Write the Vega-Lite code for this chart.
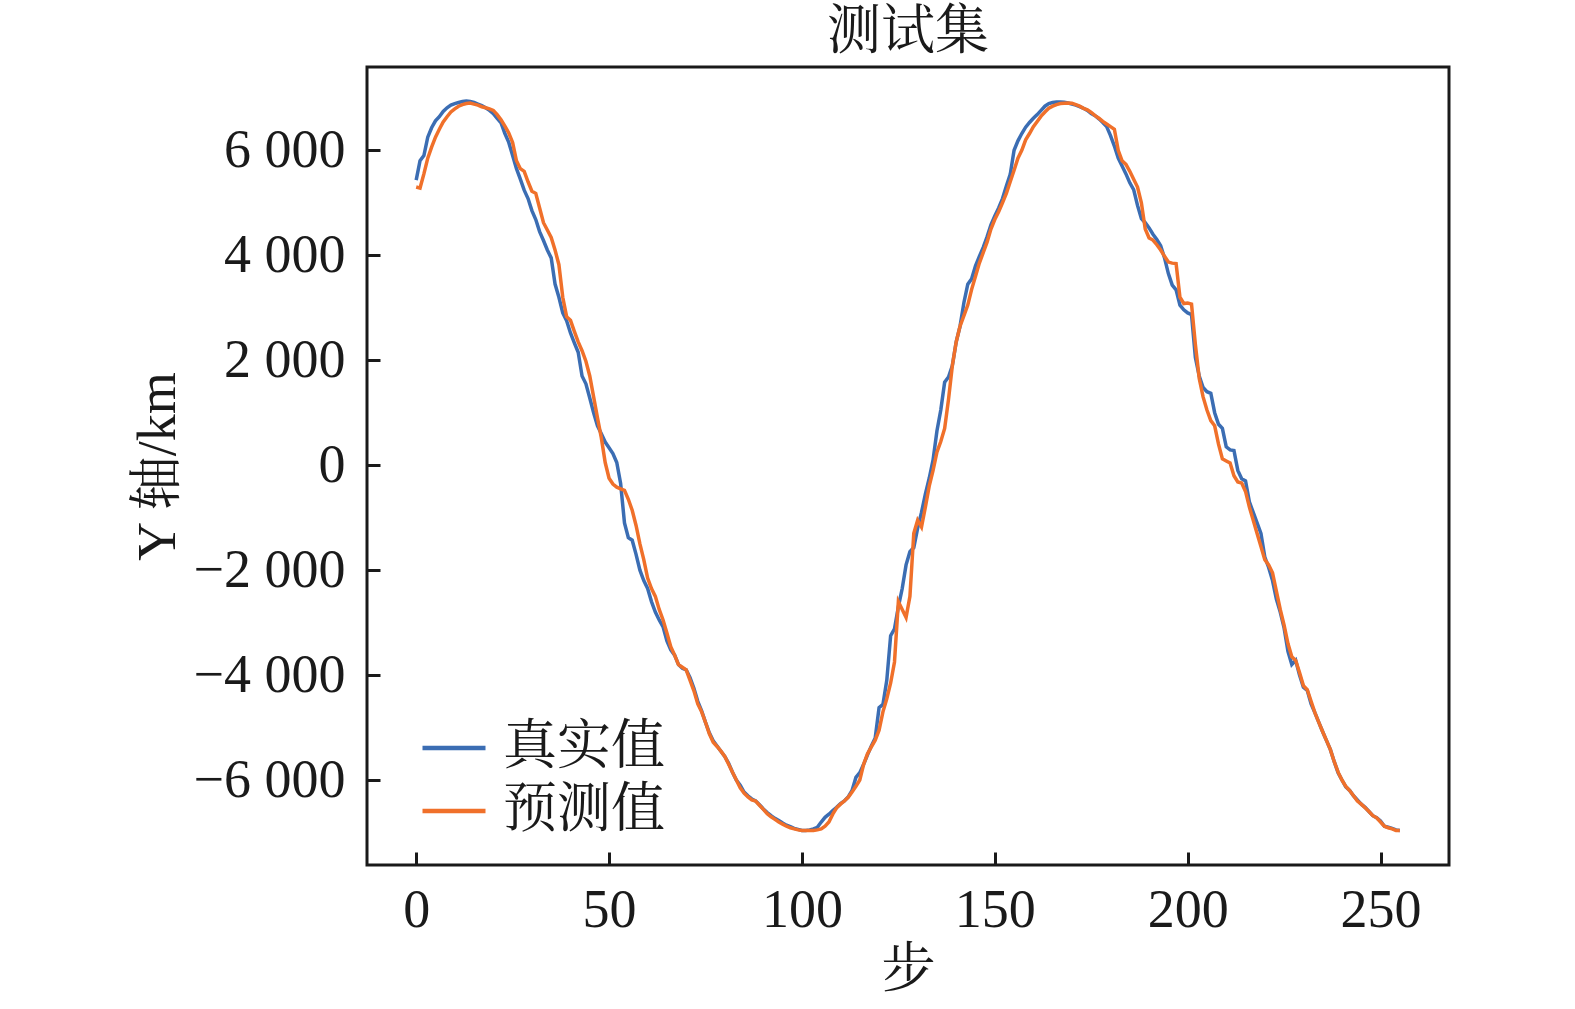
{
  "$schema": "https://vega.github.io/schema/vega-lite/v6.json",
  "description": "测试集 Y axis: true vs predicted",
  "autosize": "none",
  "padding": {"left": 367, "top": 67, "right": 126, "bottom": 144},
  "width": 1082,
  "height": 798,
  "background": "white",
  "title": {"text": "测试集", "fontSize": 54, "font": "Liberation Serif, Noto Serif CJK SC, Noto Sans CJK SC", "fontWeight": "normal", "color": "#1a1a1a", "offset": 7},
  "data": {"values": [
    {"s":0,"t":5430,"p":5300},{"s":1,"t":5800,"p":5280},{"s":2,"t":5900,"p":5550},{"s":3,"t":6250,"p":5850},{"s":4,"t":6430,"p":6060},
    {"s":5,"t":6560,"p":6250},{"s":6,"t":6640,"p":6400},{"s":7,"t":6740,"p":6540},{"s":8,"t":6810,"p":6640},{"s":9,"t":6860,"p":6730},
    {"s":10,"t":6890,"p":6790},{"s":11,"t":6910,"p":6840},{"s":12,"t":6930,"p":6870},{"s":13,"t":6940,"p":6890},{"s":14,"t":6930,"p":6900},
    {"s":15,"t":6910,"p":6880},{"s":16,"t":6880,"p":6860},{"s":17,"t":6850,"p":6830},{"s":18,"t":6810,"p":6810},{"s":19,"t":6760,"p":6790},
    {"s":20,"t":6700,"p":6760},{"s":21,"t":6610,"p":6680},{"s":22,"t":6520,"p":6580},{"s":23,"t":6320,"p":6460},{"s":24,"t":6150,"p":6330},
    {"s":25,"t":5900,"p":6150},{"s":26,"t":5650,"p":5800},{"s":27,"t":5450,"p":5650},{"s":28,"t":5240,"p":5600},{"s":29,"t":5080,"p":5400},
    {"s":30,"t":4850,"p":5220},{"s":31,"t":4680,"p":5180},{"s":32,"t":4450,"p":4900},{"s":33,"t":4280,"p":4620},{"s":34,"t":4100,"p":4480},
    {"s":35,"t":3950,"p":4340},{"s":36,"t":3450,"p":4100},{"s":37,"t":3200,"p":3820},{"s":38,"t":2900,"p":3200},{"s":39,"t":2750,"p":2830},
    {"s":40,"t":2520,"p":2760},{"s":41,"t":2330,"p":2550},{"s":42,"t":2150,"p":2350},{"s":43,"t":1700,"p":2180},{"s":44,"t":1550,"p":1980},
    {"s":45,"t":1280,"p":1700},{"s":46,"t":1000,"p":1300},{"s":47,"t":750,"p":900},{"s":48,"t":600,"p":520},{"s":49,"t":440,"p":50},
    {"s":50,"t":330,"p":-250},{"s":51,"t":220,"p":-360},{"s":52,"t":50,"p":-420},{"s":53,"t":-350,"p":-450},{"s":54,"t":-1100,"p":-480},
    {"s":55,"t":-1380,"p":-650},{"s":56,"t":-1430,"p":-860},{"s":57,"t":-1700,"p":-1150},{"s":58,"t":-2000,"p":-1500},{"s":59,"t":-2200,"p":-1800},
    {"s":60,"t":-2350,"p":-2150},{"s":61,"t":-2600,"p":-2350},{"s":62,"t":-2800,"p":-2500},{"s":63,"t":-2950,"p":-2750},{"s":64,"t":-3080,"p":-2950},
    {"s":65,"t":-3350,"p":-3200},{"s":66,"t":-3520,"p":-3460},{"s":67,"t":-3620,"p":-3620},{"s":68,"t":-3800,"p":-3800},{"s":69,"t":-3870,"p":-3850},
    {"s":70,"t":-3900,"p":-3900},{"s":71,"t":-4050,"p":-4100},{"s":72,"t":-4250,"p":-4300},{"s":73,"t":-4500,"p":-4550},{"s":74,"t":-4680,"p":-4700},
    {"s":75,"t":-4900,"p":-4900},{"s":76,"t":-5100,"p":-5120},{"s":77,"t":-5250,"p":-5280},{"s":78,"t":-5350,"p":-5360},{"s":79,"t":-5450,"p":-5450},
    {"s":80,"t":-5550,"p":-5550},{"s":81,"t":-5680,"p":-5700},{"s":82,"t":-5850,"p":-5850},{"s":83,"t":-6000,"p":-6000},{"s":84,"t":-6100,"p":-6150},
    {"s":85,"t":-6230,"p":-6250},{"s":86,"t":-6300,"p":-6320},{"s":87,"t":-6360,"p":-6380},{"s":88,"t":-6400,"p":-6400},{"s":89,"t":-6470,"p":-6480},
    {"s":90,"t":-6550,"p":-6560},{"s":91,"t":-6620,"p":-6640},{"s":92,"t":-6680,"p":-6700},{"s":93,"t":-6730,"p":-6750},{"s":94,"t":-6770,"p":-6800},
    {"s":95,"t":-6820,"p":-6840},{"s":96,"t":-6860,"p":-6880},{"s":97,"t":-6890,"p":-6910},{"s":98,"t":-6920,"p":-6930},{"s":99,"t":-6940,"p":-6950},
    {"s":100,"t":-6960,"p":-6960},{"s":101,"t":-6960,"p":-6960},{"s":102,"t":-6950,"p":-6960},{"s":103,"t":-6930,"p":-6960},{"s":104,"t":-6900,"p":-6950},
    {"s":105,"t":-6800,"p":-6930},{"s":106,"t":-6710,"p":-6880},{"s":107,"t":-6650,"p":-6800},{"s":108,"t":-6580,"p":-6650},{"s":109,"t":-6520,"p":-6530},
    {"s":110,"t":-6450,"p":-6460},{"s":111,"t":-6400,"p":-6400},{"s":112,"t":-6320,"p":-6330},{"s":113,"t":-6200,"p":-6230},{"s":114,"t":-5950,"p":-6120},
    {"s":115,"t":-5860,"p":-6000},{"s":116,"t":-5700,"p":-5700},{"s":117,"t":-5520,"p":-5500},{"s":118,"t":-5350,"p":-5370},{"s":119,"t":-5200,"p":-5240},
    {"s":120,"t":-4620,"p":-5050},{"s":121,"t":-4560,"p":-4700},{"s":122,"t":-4100,"p":-4450},{"s":123,"t":-3250,"p":-4150},{"s":124,"t":-3120,"p":-3750},
    {"s":125,"t":-2700,"p":-2600},{"s":126,"t":-2350,"p":-2750},{"s":127,"t":-1900,"p":-2900},{"s":128,"t":-1650,"p":-2500},{"s":129,"t":-1570,"p":-1300},
    {"s":130,"t":-1200,"p":-1050},{"s":131,"t":-900,"p":-1180},{"s":132,"t":-550,"p":-800},{"s":133,"t":-250,"p":-400},{"s":134,"t":100,"p":-100},
    {"s":135,"t":650,"p":250},{"s":136,"t":1050,"p":450},{"s":137,"t":1580,"p":700},{"s":138,"t":1680,"p":1250},{"s":139,"t":1900,"p":1900},
    {"s":140,"t":2350,"p":2350},{"s":141,"t":2650,"p":2650},{"s":142,"t":3100,"p":2850},{"s":143,"t":3450,"p":3050},{"s":144,"t":3550,"p":3350},
    {"s":145,"t":3800,"p":3600},{"s":146,"t":3980,"p":3850},{"s":147,"t":4150,"p":4050},{"s":148,"t":4350,"p":4250},{"s":149,"t":4580,"p":4500},
    {"s":150,"t":4750,"p":4680},{"s":151,"t":4900,"p":4830},{"s":152,"t":5080,"p":5000},{"s":153,"t":5320,"p":5180},{"s":154,"t":5540,"p":5400},
    {"s":155,"t":6000,"p":5620},{"s":156,"t":6180,"p":5850},{"s":157,"t":6320,"p":6000},{"s":158,"t":6440,"p":6200},{"s":159,"t":6530,"p":6320},
    {"s":160,"t":6610,"p":6450},{"s":161,"t":6680,"p":6550},{"s":162,"t":6760,"p":6650},{"s":163,"t":6840,"p":6730},{"s":164,"t":6890,"p":6800},
    {"s":165,"t":6910,"p":6840},{"s":166,"t":6920,"p":6870},{"s":167,"t":6920,"p":6890},{"s":168,"t":6915,"p":6895},{"s":169,"t":6900,"p":6900},
    {"s":170,"t":6880,"p":6895},{"s":171,"t":6860,"p":6870},{"s":172,"t":6830,"p":6840},{"s":173,"t":6800,"p":6800},{"s":174,"t":6760,"p":6770},
    {"s":175,"t":6700,"p":6720},{"s":176,"t":6660,"p":6660},{"s":177,"t":6600,"p":6610},{"s":178,"t":6530,"p":6550},{"s":179,"t":6450,"p":6500},
    {"s":180,"t":6280,"p":6450},{"s":181,"t":6080,"p":6400},{"s":182,"t":5850,"p":6000},{"s":183,"t":5700,"p":5800},{"s":184,"t":5550,"p":5730},
    {"s":185,"t":5380,"p":5600},{"s":186,"t":5250,"p":5450},{"s":187,"t":4950,"p":5300},{"s":188,"t":4700,"p":5000},{"s":189,"t":4620,"p":4500},
    {"s":190,"t":4520,"p":4330},{"s":191,"t":4400,"p":4290},{"s":192,"t":4300,"p":4200},{"s":193,"t":4180,"p":4100},{"s":194,"t":3950,"p":3980},
    {"s":195,"t":3650,"p":3870},{"s":196,"t":3430,"p":3850},{"s":197,"t":3340,"p":3840},{"s":198,"t":3050,"p":3200},{"s":199,"t":2960,"p":3080},
    {"s":200,"t":2900,"p":3090},{"s":201,"t":2870,"p":3070},{"s":202,"t":2050,"p":2300},{"s":203,"t":1700,"p":1650},{"s":204,"t":1480,"p":1300},
    {"s":205,"t":1400,"p":1050},{"s":206,"t":1370,"p":850},{"s":207,"t":1000,"p":750},{"s":208,"t":780,"p":400},{"s":209,"t":700,"p":120},
    {"s":210,"t":350,"p":80},{"s":211,"t":290,"p":40},{"s":212,"t":280,"p":-200},{"s":213,"t":-100,"p":-320},{"s":214,"t":-260,"p":-340},
    {"s":215,"t":-300,"p":-500},{"s":216,"t":-700,"p":-800},{"s":217,"t":-900,"p":-1050},{"s":218,"t":-1100,"p":-1300},{"s":219,"t":-1300,"p":-1550},
    {"s":220,"t":-1750,"p":-1800},{"s":221,"t":-1950,"p":-1900},{"s":222,"t":-2200,"p":-2050},{"s":223,"t":-2550,"p":-2400},{"s":224,"t":-2800,"p":-2750},
    {"s":225,"t":-3100,"p":-3050},{"s":226,"t":-3550,"p":-3400},{"s":227,"t":-3800,"p":-3650},{"s":228,"t":-3720,"p":-3720},{"s":229,"t":-4000,"p":-3950},
    {"s":230,"t":-4230,"p":-4200},{"s":231,"t":-4290,"p":-4280},{"s":232,"t":-4550,"p":-4500},{"s":233,"t":-4720,"p":-4720},{"s":234,"t":-4900,"p":-4900},
    {"s":235,"t":-5080,"p":-5080},{"s":236,"t":-5250,"p":-5250},{"s":237,"t":-5420,"p":-5420},{"s":238,"t":-5650,"p":-5650},{"s":239,"t":-5860,"p":-5850},
    {"s":240,"t":-6000,"p":-6000},{"s":241,"t":-6130,"p":-6120},{"s":242,"t":-6200,"p":-6200},{"s":243,"t":-6300,"p":-6300},{"s":244,"t":-6380,"p":-6400},
    {"s":245,"t":-6460,"p":-6460},{"s":246,"t":-6520,"p":-6530},{"s":247,"t":-6600,"p":-6600},{"s":248,"t":-6680,"p":-6680},{"s":249,"t":-6720,"p":-6720},
    {"s":250,"t":-6780,"p":-6800},{"s":251,"t":-6880,"p":-6880},{"s":252,"t":-6900,"p":-6910},{"s":253,"t":-6920,"p":-6930},{"s":254,"t":-6950,"p":-6960},
    {"s":255,"t":-6960,"p":-6960}
  ]},
  "transform": [{"fold": ["t", "p"], "as": ["k", "v"]}],
  "mark": {"type": "line", "strokeWidth": 3.5, "clip": true},
  "encoding": {
    "x": {
      "field": "s", "type": "quantitative", "title": "步",
      "scale": {"domain": [-12.75, 267.75], "nice": false, "zero": false},
      "axis": {"values": [0, 50, 100, 150, 200, 250], "labelPadding": 31, "titlePadding": 6}
    },
    "y": {
      "field": "v", "type": "quantitative", "title": "Y 轴/km",
      "scale": {"domain": [-7619, 7587], "nice": false, "zero": false},
      "axis": {
        "values": [-6000, -4000, -2000, 0, 2000, 4000, 6000],
        "labelExpr": "(datum.value < 0 ? '−' : '') + replace(format(abs(datum.value), ','), ',', ' ')",
        "labelPadding": 35, "titlePadding": 8
      }
    },
    "color": {
      "field": "k", "type": "nominal",
      "scale": {"domain": ["t", "p"], "range": ["#3b6db3", "#f0702a"]},
      "legend": {
        "title": null, "orient": "none", "legendX": 53, "legendY": 647,
        "labelExpr": "datum.label == 't' ? '真实值' : '预测值'",
        "symbolType": "stroke", "symbolSize": 3969, "symbolStrokeWidth": 4.5,
        "labelFontSize": 54, "labelOffset": 15, "labelLimit": 0, "rowPadding": 2, "padding": 0,
        "labelFont": "Liberation Serif, Noto Serif CJK SC, Noto Sans CJK SC", "labelColor": "#1a1a1a"
      }
    }
  },
  "config": {
    "view": {"stroke": "#1a1a1a", "strokeWidth": 3},
    "axis": {
      "grid": false, "domain": false, "ticks": true, "tickSize": -13, "tickWidth": 3, "tickColor": "#1a1a1a",
      "labelFont": "Liberation Serif, Noto Serif CJK SC, Noto Sans CJK SC", "labelFontSize": 54, "labelColor": "#1a1a1a",
      "titleFont": "Liberation Serif, Noto Serif CJK SC, Noto Sans CJK SC", "titleFontSize": 54, "titleFontWeight": "normal", "titleColor": "#1a1a1a",
      "labelFlush": false, "labelOverlap": false
    }
  }
}
